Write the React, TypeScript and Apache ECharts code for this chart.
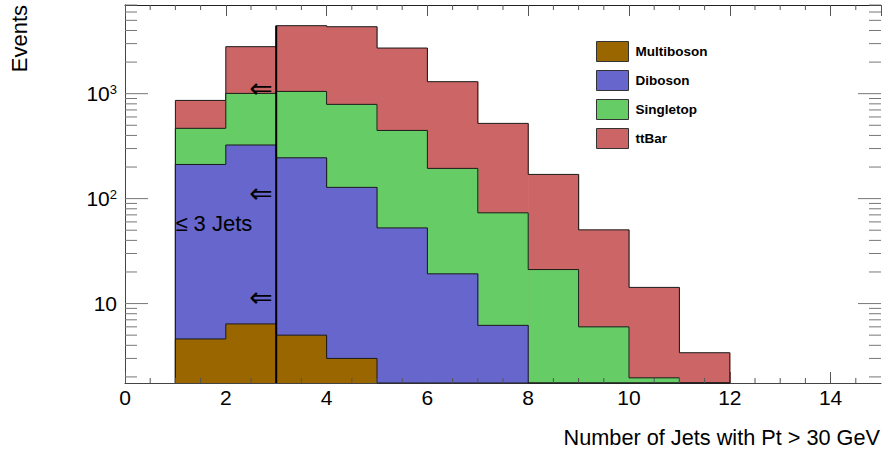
import React, { useEffect, useRef } from "react";
import * as echarts from "echarts";

// ---- data ----
const binLow = [1, 2, 3, 4, 5, 6, 7, 8, 9, 10, 11];
const binWidth = 1;
const multiboson = [4.6, 6.4, 5.0, 3.0, 0, 0, 0, 0, 0, 0, 0];
const diboson = [207, 318, 240, 125, 52.6, 19.2, 6.2, 0, 0, 0, 0];
const singletop = [256, 682, 806, 663, 394, 175, 67, 21.1, 6.0, 1.96, 0];
const ttbar = [395, 1799, 3395, 3554, 2276, 1107, 448, 149, 44.4, 12.3, 3.4];

const seriesNames = ["Multiboson", "Diboson", "Singletop", "ttBar"];
const seriesColors = ["#996600", "#6666cc", "#66cc66", "#cc6666"];

const yDecadeTicks = [10, 100, 1000];
const yMinorTicks = [
  2, 3, 4, 5, 6, 7, 8, 9,
  20, 30, 40, 50, 60, 70, 80, 90,
  200, 300, 400, 500, 600, 700, 800, 900,
  2000, 3000, 4000, 5000, 6000, 7000,
];
const xMinorTicks = [0.5, 1, 1.5, 2.5, 3, 3.5, 4.5, 5, 5.5, 6.5, 7, 7.5, 8.5, 9, 9.5, 10.5, 11, 11.5, 12.5, 13, 13.5, 14.5];

const cutX = 3;
const arrowX = 2.93;
const arrowY = [1130, 113, 11.3];
const jetsLabelPos = [1.0, 58];
const jetsLabel = "\u2264 3 Jets";

const xTitle = "Number of Jets with Pt > 30 GeV";
const yTitle = "Events";

const X_MIN = 0;
const X_MAX = 15;
const Y_MIN = 1.75;
const Y_MAX = 7000;

const FONT = "'Liberation Sans', Arial, Helvetica, sans-serif";

export default function App() {
  const ref = useRef<HTMLDivElement>(null);

  useEffect(() => {
    if (!ref.current) return;
    const chart = echarts.init(ref.current, undefined, { renderer: "svg" });

    const comps = [multiboson, diboson, singletop, ttbar];
    const cum: number[][] = [];
    comps.forEach((c, k) => {
      cum.push(c.map((v, i) => v + (k > 0 ? cum[k - 1][i] : 0)));
    });
    const clamp = (v: number) => Math.max(v, Y_MIN);

    const histSeries = [3, 2, 1, 0].map((k) => {
      const tops = cum[k];
      const rows = binLow.map((lo, i) => [
        lo,
        lo + binWidth,
        clamp(tops[i]),
        clamp(i > 0 ? tops[i - 1] : 0),
        clamp(i < binLow.length - 1 ? tops[i] : 0),
      ]);
      const color = seriesColors[k];
      return {
        type: "custom",
        name: seriesNames[k],
        itemStyle: { color, borderColor: "#222", borderWidth: 1 },
        encode: { x: [0, 1], y: [2, 3, 4] },
        data: rows,
        z: 2,
        renderItem: (params: any, api: any) => {
          const lo = api.value(0);
          const hi = api.value(1);
          const top = api.value(2);
          const prev = api.value(3);
          const next = api.value(4);
          const a = api.coord([lo, top]);
          const b = api.coord([hi, top]);
          const base = api.coord([lo, Y_MIN])[1];
          const pPrev = api.coord([lo, prev]);
          const pNext = api.coord([hi, next]);
          return {
            type: "group",
            children: [
              {
                type: "rect",
                shape: { x: a[0], y: a[1], width: b[0] - a[0] + 0.6, height: base - a[1] },
                style: { fill: color },
              },
              {
                type: "polyline",
                shape: { points: [pPrev, a, b, pNext] },
                style: { stroke: "#1a1a1a", lineWidth: 1, fill: null },
              },
            ],
          };
        },
      };
    });

    const yTickRows = [
      ...yDecadeTicks.map((v) => [0, v, 1]),
      ...yMinorTicks.map((v) => [0, v, 0]),
    ];
    const yTickSeries = {
      type: "custom",
      name: "yticks",
      encode: { y: 1 },
      data: yTickRows,
      z: 5,
      silent: true,
      renderItem: (params: any, api: any) => {
        const cs = params.coordSys;
        const v = api.value(1);
        const major = api.value(2) === 1;
        const y = api.coord([X_MIN, v])[1];
        const len = major ? 23 : 12;
        const st = { stroke: "#777", lineWidth: 1 };
        return {
          type: "group",
          children: [
            { type: "line", shape: { x1: cs.x, y1: y, x2: cs.x + len, y2: y }, style: st },
            { type: "line", shape: { x1: cs.x + cs.width, y1: y, x2: cs.x + cs.width - len, y2: y }, style: st },
          ],
        };
      },
    };

    const xTickSeries = {
      type: "custom",
      name: "xticks",
      encode: { x: 0 },
      data: xMinorTicks.map((v) => [v, Y_MIN]),
      z: 5,
      silent: true,
      renderItem: (params: any, api: any) => {
        const cs = params.coordSys;
        const x = api.coord([api.value(0), Y_MIN])[0];
        const len = 5;
        const st = { stroke: "#555", lineWidth: 1 };
        return {
          type: "group",
          children: [
            { type: "line", shape: { x1: x, y1: cs.y + cs.height, x2: x, y2: cs.y + cs.height - len }, style: st },
            { type: "line", shape: { x1: x, y1: cs.y, x2: x, y2: cs.y + len }, style: st },
          ],
        };
      },
    };

    const cutIdx = binLow.indexOf(cutX);
    const cutTop = cum[3][cutIdx];
    const cutSeries = {
      type: "custom",
      name: "cut",
      data: [[cutX, cutTop]],
      encode: { x: 0, y: 1 },
      z: 6,
      silent: true,
      renderItem: (params: any, api: any) => {
        const p0 = api.coord([api.value(0), Y_MIN]);
        const p1 = api.coord([api.value(0), api.value(1)]);
        return {
          type: "line",
          shape: { x1: p0[0], y1: p0[1], x2: p1[0], y2: p1[1] },
          style: { stroke: "#000", lineWidth: 2 },
        };
      },
    };

    const arrowSeries = {
      type: "custom",
      name: "arrows",
      data: arrowY.map((y) => [arrowX, y]),
      encode: { x: 0, y: 1 },
      z: 7,
      silent: true,
      renderItem: (params: any, api: any) => {
        const p = api.coord([api.value(0), api.value(1)]);
        return {
          type: "text",
          x: p[0],
          y: p[1],
          style: {
            text: "\u21d0",
            fontSize: 28,
            fontFamily: "'DejaVu Sans', sans-serif",
            fill: "#000",
            align: "right",
            verticalAlign: "middle",
          },
        };
      },
    };

    const jetsSeries = {
      type: "custom",
      name: "jets",
      data: [jetsLabelPos],
      encode: { x: 0, y: 1 },
      z: 7,
      silent: true,
      renderItem: (params: any, api: any) => {
        const p = api.coord([api.value(0), api.value(1)]);
        return {
          type: "text",
          x: p[0],
          y: p[1],
          style: {
            text: jetsLabel,
            fontSize: 22,
            fontFamily: FONT,
            fill: "#000",
            align: "left",
            verticalAlign: "middle",
          },
        };
      },
    };

    const option: any = {
      animation: false,
      backgroundColor: "#fff",
      textStyle: { fontFamily: FONT },
      grid: { left: 125, right: 1, top: 5, bottom: 69, containLabel: false },
      legend: {
        data: seriesNames,
        orient: "vertical",
        left: 596,
        top: 41,
        padding: 0,
        itemWidth: 32,
        itemHeight: 20,
        itemGap: 8,
        icon: "rect",
        itemStyle: { borderColor: "#333", borderWidth: 1 },
        textStyle: { fontSize: 13.5, fontWeight: "bold", color: "#000", fontFamily: FONT, padding: [0, 0, 0, 2] },
        selectedMode: false,
      },
      xAxis: [
        {
          type: "value",
          min: X_MIN,
          max: X_MAX,
          interval: 2,
          position: "bottom",
          axisLine: { show: true, lineStyle: { color: "#444", width: 1 } },
          axisTick: { show: true, inside: true, length: 11, lineStyle: { color: "#555" } },
          axisLabel: { fontSize: 21, color: "#000", margin: 4, showMaxLabel: false, fontFamily: FONT },
          splitLine: { show: false },
        },
        {
          type: "value",
          min: X_MIN,
          max: X_MAX,
          interval: 2,
          position: "top",
          axisLine: { show: true, lineStyle: { color: "#222", width: 1 } },
          axisTick: { show: true, inside: true, length: 11, lineStyle: { color: "#555" } },
          axisLabel: { show: false },
          splitLine: { show: false },
        },
      ],
      yAxis: [
        {
          type: "log",
          logBase: 10,
          min: Y_MIN,
          max: Y_MAX,
          position: "left",
          axisLine: { show: true, lineStyle: { color: "#444", width: 1 } },
          axisTick: { show: false },
          splitLine: { show: false },
          axisLabel: {
            fontSize: 21,
            color: "#000",
            margin: 8,
            fontFamily: FONT,
            formatter: (v: number) => {
              const l = Math.log10(v);
              const e = Math.round(l);
              if (Math.abs(l - e) > 1e-6 || e < 1) return "";
              if (e === 1) return "10";
              return "10{sup|" + e + "}";
            },
            rich: {
              sup: { fontSize: 13, padding: [0, 0, 9, 0], color: "#000", fontFamily: FONT },
            },
          },
        },
        {
          type: "log",
          logBase: 10,
          min: Y_MIN,
          max: Y_MAX,
          position: "right",
          axisLine: { show: true, lineStyle: { color: "#444", width: 1 } },
          axisTick: { show: false },
          axisLabel: { show: false },
          splitLine: { show: false },
        },
      ],
      series: [...histSeries, xTickSeries, yTickSeries, cutSeries, arrowSeries, jetsSeries],
      graphic: [
        {
          type: "text",
          right: 2,
          top: 426,
          style: { text: xTitle, fontSize: 21.7, fontFamily: FONT, fill: "#000" },
        },
        {
          type: "text",
          x: 19,
          y: 5,
          rotation: Math.PI / 2,
          style: {
            text: yTitle,
            fontSize: 22,
            fontFamily: FONT,
            fill: "#000",
            align: "right",
            verticalAlign: "middle",
          },
        },
      ],
    };

    chart.setOption(option);
    return () => chart.dispose();
  }, []);

  return (
    <div
      ref={ref}
      style={{ position: "absolute", left: 0, top: 0, width: 882, height: 452 }}
    />
  );
}
